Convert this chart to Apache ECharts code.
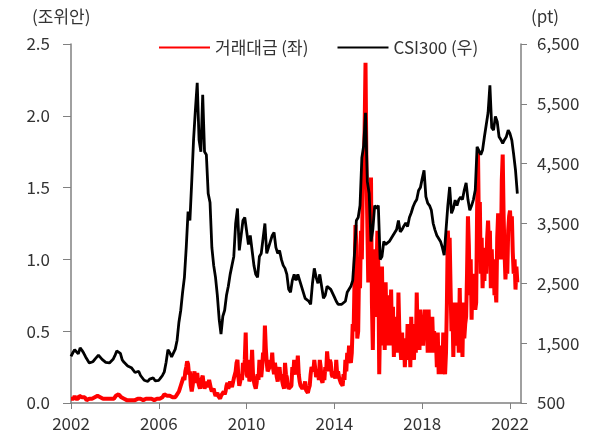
<!DOCTYPE html>
<html><head><meta charset="utf-8">
<script src="https://cdn.jsdelivr.net/npm/echarts@6/dist/echarts.min.js"></script>
<style>html,body{margin:0;padding:0;background:#fff}#c{width:590px;height:440px}</style>
</head><body><div id="c"></div>
<script>
var startYear = 2002;
var seriesNames = ['거래대금 (좌)', 'CSI300 (우)'];
var leftTicks = [0, 0.5, 1.0, 1.5, 2.0, 2.5];
var rightTicks = [500, 1500, 2500, 3500, 4500, 5500, 6500];
var xTicks = [2002, 2006, 2010, 2014, 2018, 2022];

// 거래대금 (조위안), twice-monthly samples from Jan 2002
var tradeValue = [
 0.03,0.02,0.04,0.03,0.05,0.03,0.03,0.04,0.03,0.05,0.06,0.04,0.04,0.03,0.03,0.04,0.03,0.02,0.02,0.03,0.03,0.02,0.03,0.03,
 0.03,0.03,0.04,0.03,0.04,0.05,0.05,0.04,0.04,0.03,0.03,0.03,0.03,0.02,0.03,0.03,0.02,0.03,0.03,0.02,0.03,0.04,0.04,0.03,
 0.04,0.05,0.05,0.06,0.06,0.05,0.05,0.04,0.04,0.03,0.03,0.03,0.03,0.02,0.03,0.03,0.02,0.03,0.03,0.02,0.02,0.03,0.02,0.02,
 0.02,0.03,0.04,0.03,0.03,0.02,0.03,0.02,0.02,0.02,0.03,0.02,0.02,0.03,0.03,0.04,0.03,0.03,0.02,0.02,0.02,0.02,0.03,0.02,
 0.03,0.03,0.03,0.04,0.04,0.05,0.06,0.07,0.06,0.05,0.05,0.04,0.05,0.06,0.05,0.04,0.04,0.03,0.04,0.05,0.06,0.07,0.08,0.10,
 0.12,0.14,0.15,0.18,0.16,0.22,0.25,0.29,0.27,0.20,0.22,0.12,0.08,0.12,0.18,0.22,0.14,0.18,0.21,0.15,0.12,0.10,0.14,0.17,
 0.19,0.13,0.10,0.12,0.15,0.11,0.12,0.16,0.17,0.10,0.08,0.09,0.10,0.07,0.05,0.06,0.07,0.05,0.04,0.03,0.05,0.04,0.06,0.08,
 0.06,0.08,0.12,0.14,0.10,0.12,0.15,0.13,0.11,0.14,0.17,0.16,0.22,0.28,0.30,0.18,0.12,0.15,0.20,0.16,0.28,0.22,0.30,0.49,
 0.20,0.18,0.30,0.15,0.17,0.22,0.37,0.20,0.15,0.12,0.10,0.14,0.20,0.16,0.30,0.22,0.18,0.25,0.35,0.30,0.54,0.38,0.28,0.22,
 0.22,0.25,0.30,0.26,0.35,0.24,0.20,0.28,0.28,0.18,0.15,0.20,0.25,0.18,0.20,0.15,0.12,0.10,0.28,0.20,0.18,0.12,0.10,0.09,
 0.09,0.12,0.25,0.20,0.30,0.22,0.20,0.24,0.33,0.20,0.15,0.12,0.12,0.10,0.10,0.12,0.15,0.09,0.08,0.07,0.10,0.12,0.20,0.25,
 0.25,0.22,0.30,0.24,0.18,0.20,0.22,0.16,0.30,0.25,0.16,0.14,0.20,0.16,0.25,0.22,0.36,0.28,0.22,0.30,0.28,0.20,0.18,0.22,
 0.20,0.17,0.30,0.20,0.22,0.18,0.16,0.14,0.14,0.12,0.20,0.16,0.30,0.22,0.35,0.28,0.40,0.30,0.28,0.35,0.55,0.50,0.85,1.24,
 1.10,0.45,0.50,0.95,0.80,1.20,1.00,1.50,1.64,1.90,2.37,1.64,1.64,0.84,1.07,0.90,1.57,0.70,0.37,0.90,1.07,0.60,0.90,1.20,
 0.95,0.20,0.60,0.40,0.95,0.50,0.70,0.37,0.84,0.50,0.60,0.40,0.75,0.45,0.79,0.40,0.67,0.32,0.60,0.40,0.55,0.35,0.77,0.50,
 0.40,0.30,0.49,0.30,0.45,0.25,0.40,0.30,0.55,0.30,0.45,0.25,0.60,0.35,0.50,0.30,0.55,0.35,0.77,0.45,0.60,0.37,0.65,0.45,
 0.60,0.40,0.55,0.65,0.45,0.60,0.35,0.65,0.40,0.55,0.35,0.60,0.40,0.50,0.35,0.45,0.25,0.49,0.20,0.40,0.25,0.35,0.20,0.49,
 0.30,0.20,0.35,0.70,1.20,1.00,1.15,0.80,0.50,0.70,0.32,0.60,0.45,0.70,0.40,0.55,0.35,0.80,0.45,0.60,0.32,0.70,0.45,0.55,
 0.60,0.90,1.30,1.10,0.75,1.00,0.58,0.90,0.70,0.85,0.65,0.70,1.34,1.74,1.20,1.40,0.90,1.15,0.80,1.00,0.85,1.08,0.90,1.15,
 1.27,1.10,1.20,0.80,1.07,0.85,1.00,0.75,0.80,0.70,1.15,1.32,1.20,1.30,1.00,1.55,1.73,1.30,1.05,0.86,1.00,0.90,1.20,1.30,
 1.34,1.20,1.30,1.05,0.90,1.00,0.79,0.95,0.84
];

// CSI300 (pt), monthly samples from Jan 2002
var csi300 = [
 1280,1340,1390,1360,1320,1420,1380,1330,1270,1220,1170,1140,
 1190,1230,1260,1300,1280,1230,1210,1180,1150,1170,1200,1230,
 1290,1370,1400,1330,1220,1180,1150,1120,1140,1090,1070,1010,
 990,1030,960,940,880,870,860,900,890,920,870,860,
 880,920,960,1020,1180,1390,1340,1270,1300,1400,1550,1850,
 2050,2350,2600,3100,3700,3550,4200,4900,5400,5850,4900,4700,
 5650,4700,4650,4000,3850,3100,2800,2600,2300,1900,1650,1950,
 2050,2300,2450,2650,2800,2950,3500,3750,3050,3300,3550,3600,
 3600,3150,3300,3300,2800,2650,2600,2950,3000,3250,3500,3000,
 3000,3200,3300,3350,3100,3000,3050,2900,2800,2750,2650,2400,
 2350,2550,2650,2550,2650,2550,2450,2350,2250,2280,2200,2150,
 2500,2750,2600,2500,2650,2450,2250,2300,2450,2480,2400,2380,
 2270,2200,2150,2150,2150,2170,2200,2350,2400,2450,2550,3000,
 3550,3600,3800,4600,4800,5350,4200,4000,3200,3400,3800,3750,
 3800,2900,2950,3200,3150,3150,3200,3250,3300,3300,3400,3550,
 3360,3400,3460,3510,3450,3600,3680,3780,3850,3900,4050,4100,
 4250,4390,3950,3840,3800,3720,3500,3390,3300,3270,3200,3100,
 2970,3390,3800,4110,3670,3750,3890,3800,3900,3940,3900,4060,
 4180,3900,3720,3800,3900,4060,4780,4800,4650,4730,4950,5150,
 5350,5810,5100,5060,5290,5200,4950,4900,4840,4900,4950,5060,
 5000,4890,4650,4390,4000
];

function toXY(arr, perYear){ return arr.map(function(v,i){ return [startYear + i/perYear, v]; }); }

var font = 'Noto Sans CJK KR';
var txt = '#333';
var axisCol = '#808080';
var chart = echarts.init(document.getElementById('c'));
chart.setOption({
  animation: false,
  textStyle: {fontFamily: font},
  grid: {left: 71, right: 69, top: 44, bottom: 37},
  legend: {
    left: 153, top: 34, itemWidth: 51, itemHeight: 14, itemGap: 28,
    itemStyle: {opacity: 0},
    textStyle: {fontFamily: font, fontSize: 17, color: txt},
    data: seriesNames
  },
  graphic: [
    {type: 'text', left: 32, top: 8, style: {text: '(조위안)', font: '17px "Noto Sans CJK KR"', fill: txt}},
    {type: 'text', left: 531, top: 8, style: {text: '(pt)', font: '17px "Noto Sans CJK KR"', fill: txt}}
  ],
  xAxis: {
    type: 'value', min: xTicks[0], max: 2022.5, interval: 4,
    axisLine: {show: true, lineStyle: {color: axisCol, width: 1.5}},
    axisTick: {show: true, inside: false, length: 6, lineStyle: {color: axisCol}},
    axisLabel: {fontSize: 17, color: txt, margin: 12, showMaxLabel: false, fontFamily: font,
      formatter: function(v){ return String(v); }},
    splitLine: {show: false}
  },
  yAxis: [
    {
      type: 'value', min: leftTicks[0], max: leftTicks[leftTicks.length-1], interval: 0.5, position: 'left',
      axisLine: {show: true, lineStyle: {color: axisCol, width: 1.5}},
      axisTick: {show: true, inside: false, length: 8, lineStyle: {color: axisCol}},
      axisLabel: {fontSize: 17, color: txt, margin: 21, fontFamily: font, formatter: function(v){ return v.toFixed(1); }},
      splitLine: {show: false}
    },
    {
      type: 'value', min: rightTicks[0], max: rightTicks[rightTicks.length-1], interval: 1000, position: 'right',
      axisLine: {show: true, lineStyle: {color: axisCol, width: 1.5}},
      axisTick: {show: true, inside: false, length: 6, lineStyle: {color: axisCol}},
      axisLabel: {fontSize: 17, color: txt, margin: 16, fontFamily: font, formatter: function(v){ return v.toLocaleString('en-US'); }},
      splitLine: {show: false}
    }
  ],
  series: [
    {name: seriesNames[0], type: 'line', yAxisIndex: 0, symbol: 'none', data: toXY(tradeValue, 24),
     lineStyle: {color: '#ff0000', width: 4}, itemStyle: {color: '#ff0000'}},
    {name: seriesNames[1], type: 'line', yAxisIndex: 1, symbol: 'none', data: toXY(csi300, 12),
     lineStyle: {color: '#000000', width: 2.8}, itemStyle: {color: '#000000'}}
  ]
});
</script></body></html>
